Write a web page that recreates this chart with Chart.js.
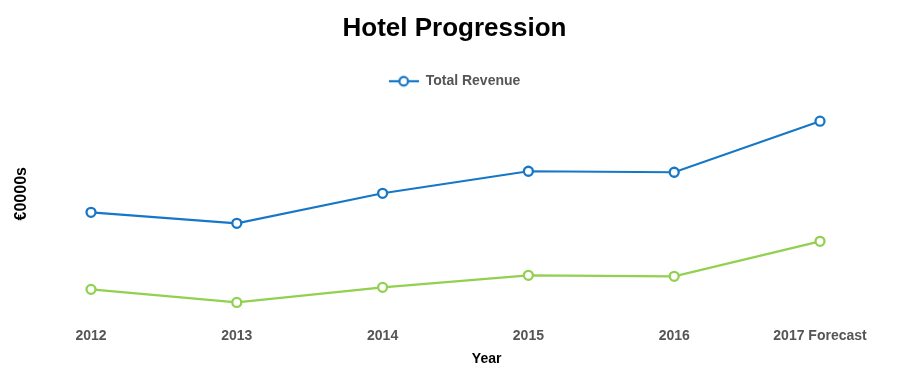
<!DOCTYPE html>
<html>
<head>
<meta charset="utf-8">
<script src="https://cdn.jsdelivr.net/npm/chart.js@4"></script>
<style>
body{margin:0;background:#fff}
</style>
</head>
<body>
<canvas id="chart" width="909" height="368"></canvas>
<script>
const years = ['2012', '2013', '2014', '2015', '2016', '2017 Forecast'];
const totalRevenue = [108, 97, 127, 149, 148, 199];
const secondSeries = [31, 18, 33, 45, 44, 79];

const blue = '#1777c7';
const green = '#92d050';
const font = 'Liberation Sans';

// legend marker: line with an open circle on it
function legendMark(color){
    let c = document.createElement('canvas');
    c.width = 30; c.height = 14;
    let ctx = c.getContext('2d');
    ctx.strokeStyle = color;
    ctx.lineWidth = 2.2;
    ctx.beginPath(); ctx.moveTo(0,7); ctx.lineTo(30,7); ctx.stroke();
    ctx.fillStyle = '#fff';
    ctx.beginPath(); ctx.arc(15,7,4.3,0,Math.PI*2); ctx.fill(); ctx.stroke();
    return c;
}

new Chart(document.getElementById('chart'), {
    type: 'line',
    data: {
        labels: years,
        datasets: [{
            label: 'Total Revenue',
            data: totalRevenue,
            borderColor: blue,
            backgroundColor: '#fff',
            borderWidth: 2.2,
            pointRadius: 4.5,
            pointBorderWidth: 2.3,
            tension: 0
        }, {
            label: 'Other',
            data: secondSeries,
            borderColor: green,
            backgroundColor: '#fff',
            borderWidth: 2.2,
            pointRadius: 4.5,
            pointBorderWidth: 2.3,
            tension: 0
        }]
    },
    options: {
        responsive: false,
        animation: false,
        layout: {padding: {left: 0, right: 0, top: 8, bottom: 0}},
        plugins: {
            title: {
                display: true,
                text: 'Hotel Progression',
                color: '#000',
                font: {family: font, size: 26, weight: 'bold'},
                padding: {top: 5, bottom: 20}
            },
            legend: {
                labels: {
                    filter: item => item.datasetIndex === 0,
                    usePointStyle: true,
                    pointStyle: legendMark(blue),
                    pointStyleWidth: 30,
                    color: '#555',
                    font: {family: font, size: 14, weight: 'bold'},
                    padding: 10
                }
            },
            tooltip: {enabled: false}
        },
        scales: {
            x: {
                grid: {display: false, drawTicks: false},
                border: {display: false},
                ticks: {
                    color: '#555',
                    font: {family: font, size: 14, weight: 'bold'},
                    padding: 7,
                    maxRotation: 0
                },
                title: {
                    display: true,
                    text: ' '.repeat(16) + 'Year',
                    color: '#000',
                    font: {family: font, size: 14, weight: 'bold'},
                    padding: {top: 0, bottom: 0}
                }
            },
            y: {
                min: 0,
                max: 222,
                grid: {display: false, drawTicks: false},
                border: {display: false},
                ticks: {display: false},
                afterFit: s => { s.width = 91; },
                title: {
                    display: true,
                    text: ' '.repeat(7) + '€0000s',
                    color: '#000',
                    font: {family: font, size: 16, weight: 'bold'},
                    padding: {top: 12, bottom: 0}
                }
            },
            y2: {
                position: 'right',
                grid: {display: false, drawTicks: false},
                border: {display: false},
                ticks: {display: false},
                afterFit: s => { s.width = 89; }
            }
        }
    }
});
</script>
</body>
</html>
